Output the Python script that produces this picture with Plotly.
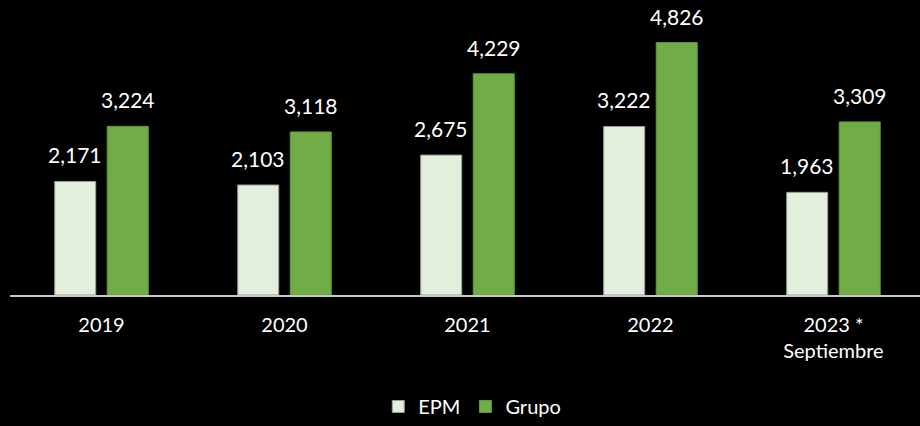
import plotly.graph_objects as go

# Categories and series values
years = ["2019", "2020", "2021", "2022", "2023 *<br>Septiembre"]
epm = [2171, 2103, 2675, 3222, 1963]
grupo = [3224, 3118, 4229, 4826, 3309]

EPM_COLOR = "#E2EFDA"
GRUPO_COLOR = "#70AD47"
FONT = "Lato"

fig = go.Figure()
fig.add_trace(go.Bar(
    name="EPM", x=years, y=epm,
    marker=dict(color=EPM_COLOR, line=dict(color="#9a9a9a", width=1)),
))
fig.add_trace(go.Bar(
    name="Grupo", x=years, y=grupo,
    marker=dict(color=GRUPO_COLOR, line=dict(color="#5f9a3c", width=1)),
))

# Value labels above each bar (x given as category index)
annotations = []
for series, shift in ((epm, -26.25), (grupo, 26.25)):
    for i, val in enumerate(series):
        annotations.append(dict(
            x=i, y=val, xref="x", yref="y",
            text=f"{val:,}", showarrow=False,
            xanchor="center", yanchor="bottom",
            xshift=shift, yshift=12,
            font=dict(family=FONT, size=21, color="#ffffff"),
        ))

fig.update_layout(
    width=920, height=426,
    paper_bgcolor="#000000", plot_bgcolor="#000000",
    margin=dict(l=10, r=0, t=0, b=128),
    barmode="group", bargap=0.426, bargroupgap=0.219,
    font=dict(family=FONT, size=20, color="#ffffff"),
    showlegend=True,
    legend=dict(
        orientation="h", x=0.508, xanchor="center",
        y=-0.379, yanchor="middle",
        font=dict(family=FONT, size=20, color="#ffffff"),
        bgcolor="rgba(0,0,0,0)",
        traceorder="normal",
    ),
    annotations=annotations,
)
fig.update_xaxes(
    range=[-0.5, 4.473],
    showline=True, linecolor="#c8c8c8", linewidth=2,
    showgrid=False, zeroline=False,
    ticks="outside", ticklen=11, tickcolor="rgba(0,0,0,0)",
    tickfont=dict(family=FONT, size=20, color="#ffffff"),
    fixedrange=True,
)
fig.update_yaxes(
    range=[0, 5640], visible=False, showgrid=False, zeroline=False,
    fixedrange=True,
)

fig.write_html("out.html", config={"displayModeBar": False})
